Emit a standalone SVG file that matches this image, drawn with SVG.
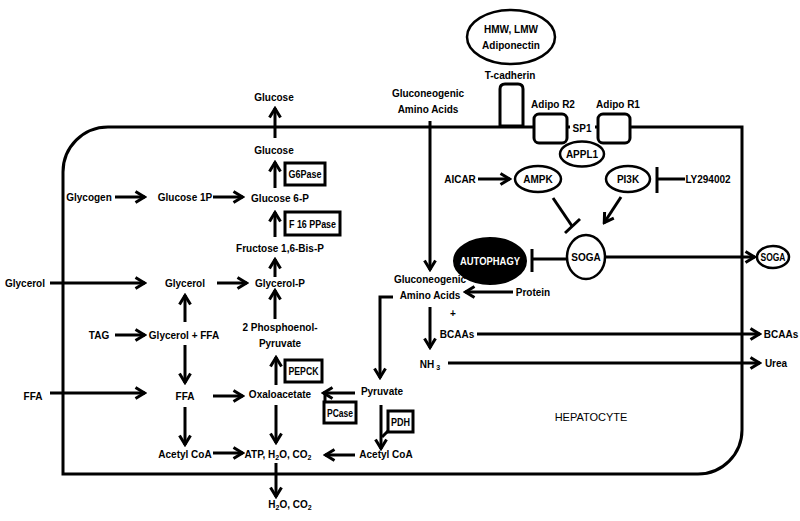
<svg xmlns="http://www.w3.org/2000/svg" width="800" height="521" viewBox="0 0 800 521">
<defs>
<marker id="ah" viewBox="0 0 13 14" refX="11" refY="7" markerWidth="13" markerHeight="14" markerUnits="userSpaceOnUse" orient="auto">
<path d="M1.5,1.5 L10.5,7 L1.5,12.5" fill="none" stroke="#000" stroke-width="3"/>
</marker>
<style>
text{font-family:"Liberation Sans",Arial,sans-serif;font-weight:bold;font-size:10px;text-anchor:middle;fill:#000}
.reg{font-weight:normal;font-size:11px}
.w{fill:#fff}
.c line,.c polyline{stroke:#000;stroke-width:3;fill:none}
.arr{marker-end:url(#ah)}
.box{fill:#fff;stroke:#000;stroke-width:3}
.ell{fill:#fff;stroke:#000;stroke-width:2.5}
.cell{fill:none;stroke:#000;stroke-width:3}
</style>
</defs>
<rect width="800" height="521" fill="#fff"/>

<g id="hepatocyte">
<path class="cell" d="M63,172 A45,45 0 0 1 108,127 H742 V430 A44,44 0 0 1 698,474 H63 Z"/>
<text class="reg" x="591" y="421">HEPATOCYTE</text>
</g>

<g id="adiponectin"><ellipse class="ell" cx="511" cy="37" rx="44" ry="27"/><text x="511" y="33">HMW, LMW</text><text x="511" y="49">Adiponectin</text></g>
<g id="t-cadherin"><path class="box" d="M500,126 V89 Q500,84 505,84 H518 Q523,84 523,89 V126 Z"/><text x="510" y="79">T-cadherin</text></g>
<g id="adipor2"><rect class="box" x="534" y="114" width="33" height="29" rx="5"/><text x="553" y="108">Adipo R2</text></g>
<g id="adipor1"><rect class="box" x="598" y="114" width="32" height="29" rx="5"/><text x="618" y="108">Adipo R1</text></g>
<g id="sp1"><rect x="570" y="121" width="25" height="14" fill="#fff"/><text x="582" y="132">SP1</text></g>
<g id="appl1"><ellipse class="ell" cx="582" cy="154" rx="22" ry="12.5"/><text x="582" y="158">APPL1</text></g>
<g id="aicar"><text x="460" y="183">AICAR</text></g>
<g id="ampk"><ellipse class="ell" cx="538" cy="179" rx="23" ry="13"/><text x="538" y="183">AMPK</text></g>
<g id="pi3k"><ellipse class="ell" cx="628" cy="179" rx="22" ry="13"/><text x="628" y="183">PI3K</text></g>
<g id="ly294002"><text x="708" y="183">LY294002</text></g>
<g id="soga"><ellipse class="ell" cx="586" cy="257" rx="19" ry="22"/><text x="586" y="261">SOGA</text></g>
<g id="autophagy"><ellipse cx="490" cy="261" rx="36" ry="23" fill="#000" stroke="#000" stroke-width="2"/><text class="w" x="490" y="265" textLength="60" lengthAdjust="spacingAndGlyphs">AUTOPHAGY</text></g>
<g id="soga-out"><ellipse class="ell" cx="773" cy="257" rx="16" ry="11"/><text x="773" y="261" textLength="25" lengthAdjust="spacingAndGlyphs">SOGA</text></g>

<g id="gaa-out"><text x="428" y="97">Gluconeogenic</text><text x="428" y="113">Amino Acids</text></g>
<g id="gaa-in"><text x="430" y="283">Gluconeogenic</text><text x="430" y="299">Amino Acids</text></g>
<g id="protein"><text x="533" y="296">Protein</text></g>
<g id="plus"><text x="453" y="317">+</text></g>
<g id="bcaas-in"><text x="457" y="338">BCAAs</text></g>
<g id="bcaas-out"><text x="781" y="338">BCAAs</text></g>
<g id="nh3"><text x="430" y="368">NH<tspan dx="2" dy="2" style="font-size:7px">3</tspan></text></g>
<g id="urea"><text x="776" y="367">Urea</text></g>

<g id="glucose-out"><text x="274" y="101">Glucose</text></g>
<g id="glucose"><text x="274" y="154">Glucose</text></g>
<g id="g6pase"><rect class="box" x="285" y="163" width="40" height="22"/><text x="305" y="178" textLength="33" lengthAdjust="spacingAndGlyphs">G6Pase</text></g>
<g id="glucose6p"><text x="280" y="202">Glucose 6-P</text></g>
<g id="glycogen"><text x="89" y="201">Glycogen</text></g>
<g id="glucose1p"><text x="185" y="201">Glucose 1P</text></g>
<g id="f16ppase"><rect class="box" x="285" y="212" width="55" height="23"/><text x="312.5" y="228" textLength="47" lengthAdjust="spacingAndGlyphs">F 16 PPase</text></g>
<g id="fructose"><text x="280" y="252">Fructose 1,6-Bis-P</text></g>
<g id="glycerol-out"><text x="25" y="287">Glycerol</text></g>
<g id="glycerol"><text x="185" y="287">Glycerol</text></g>
<g id="glycerolp"><text x="280" y="287">Glycerol-P</text></g>
<g id="tag"><text x="99" y="339">TAG</text></g>
<g id="glycerol-ffa"><text x="184" y="339">Glycerol + FFA</text></g>
<g id="pep"><text x="280" y="331">2 Phosphoenol-</text><text x="280" y="347">Pyruvate</text></g>
<g id="pepck"><rect class="box" x="285" y="360" width="37" height="22"/><text x="303.5" y="375" textLength="30" lengthAdjust="spacingAndGlyphs">PEPCK</text></g>
<g id="ffa-out"><text x="33" y="400">FFA</text></g>
<g id="ffa"><text x="185" y="400">FFA</text></g>
<g id="oxaloacetate"><text x="280" y="398">Oxaloacetate</text></g>
<g id="pyruvate"><text x="382" y="395">Pyruvate</text></g>
<g id="pcase"><rect class="box" x="324" y="402" width="32" height="21"/><text x="340" y="417" textLength="26" lengthAdjust="spacingAndGlyphs">PCase</text></g>
<g id="pdh"><rect class="box" x="388" y="411" width="25" height="21"/><text x="400.5" y="426" textLength="19" lengthAdjust="spacingAndGlyphs">PDH</text></g>
<g id="acetylcoa-r"><text x="386" y="458">Acetyl CoA</text></g>
<g id="atp"><text x="278" y="458">ATP, H<tspan dy="2" style="font-size:7px">2</tspan><tspan dy="-2">O, CO</tspan><tspan dy="2" style="font-size:7px">2</tspan></text></g>
<g id="acetylcoa-l"><text x="185" y="458">Acetyl CoA</text></g>
<g id="h2o-co2"><text x="290" y="508">H<tspan dy="2" style="font-size:7px">2</tspan><tspan dy="-2">O, CO</tspan><tspan dy="2" style="font-size:7px">2</tspan></text></g>

<g id="connectors" class="c">
<line class="arr" x1="275" y1="138" x2="275" y2="108"/>
<line class="arr" x1="275" y1="188" x2="275" y2="162"/>
<line class="arr" x1="275" y1="237" x2="275" y2="212"/>
<line class="arr" x1="275" y1="277" x2="275" y2="259"/>
<line class="arr" x1="115" y1="197" x2="145" y2="197"/>
<line class="arr" x1="213" y1="197" x2="243" y2="197"/>
<line class="arr" x1="50" y1="283" x2="145" y2="283"/>
<line class="arr" x1="217" y1="283" x2="247" y2="283"/>
<line class="arr" x1="185" y1="322" x2="185" y2="295"/>
<line class="arr" x1="115" y1="335" x2="145" y2="335"/>
<line class="arr" x1="185" y1="345" x2="185" y2="383"/>
<line class="arr" x1="50" y1="393" x2="145" y2="393"/>
<line class="arr" x1="213" y1="396" x2="243" y2="396"/>
<line class="arr" x1="276" y1="385" x2="276" y2="357"/>
<line class="arr" x1="275" y1="319" x2="275" y2="290"/>
<line class="arr" x1="355" y1="393" x2="323" y2="393"/>
<line x1="325" y1="393" x2="325" y2="402"/>
<line class="arr" x1="276" y1="405" x2="276" y2="443"/>
<line class="arr" x1="185" y1="407" x2="185" y2="445"/>
<line class="arr" x1="213" y1="453" x2="243" y2="453"/>
<line class="arr" x1="355" y1="455" x2="325" y2="455"/>
<line class="arr" x1="381" y1="405" x2="381" y2="449"/>
<line x1="388" y1="431" x2="382" y2="437"/>
<line class="arr" x1="276" y1="463" x2="276" y2="497"/>
<line class="arr" x1="430" y1="121" x2="430" y2="270"/>
<line class="arr" x1="513" y1="292" x2="465" y2="292"/>
<line class="arr" x1="430" y1="307" x2="430" y2="348"/>
<polyline class="arr" points="393,297 380,297 380,378"/>
<line class="arr" x1="477" y1="334" x2="760" y2="334"/>
<line class="arr" x1="448" y1="363" x2="760" y2="363"/>
<line class="arr" x1="478" y1="179" x2="510" y2="179"/>
<line class="arr" x1="621" y1="197" x2="604" y2="223"/>
<line class="arr" x1="605" y1="257" x2="755" y2="257"/>
<line x1="553" y1="198" x2="572" y2="226"/>
<line x1="565" y1="233" x2="580" y2="219"/>
<line x1="685" y1="179" x2="657" y2="179"/>
<line x1="657" y1="167" x2="657" y2="193"/>
<line x1="567" y1="259" x2="532" y2="259"/>
<line x1="532" y1="249" x2="532" y2="272"/>
</g>
</svg>
